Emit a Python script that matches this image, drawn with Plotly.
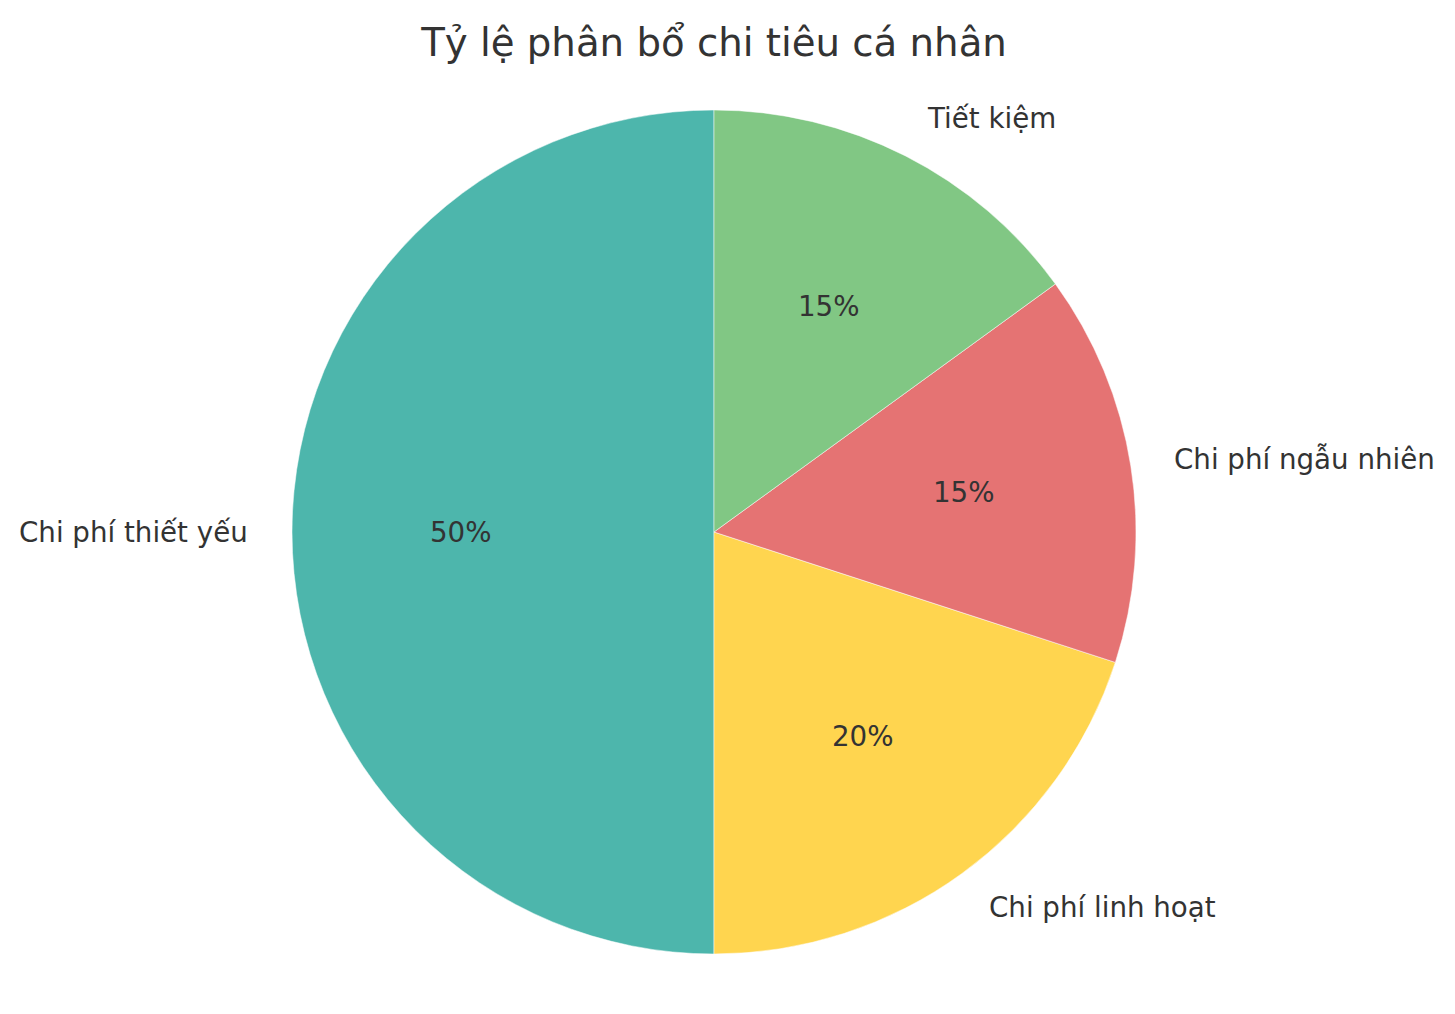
import numpy as np
import plotly.graph_objects as go

labels = ["Chi phí thiết yếu", "Chi phí linh hoạt", "Chi phí ngẫu nhiên", "Tiết kiệm"]
values = [50, 20, 15, 15]
colors = ["#4DB6AC", "#FFD54F", "#E57373", "#81C784"]
title = "Tỷ lệ phân bổ chi tiêu cá nhân"

# page has an 8px body margin, so the figure is drawn 8px in
OFF = 8
W, H = 1455 - 2 * OFF, 1014 - 2 * OFF
cx, cy, R = 714 - OFF, 532 - OFF, 422   # pie centre / radius in figure pixels
txt = "#333333"
font = "DejaVu Sans"

dom_x = [(cx - R) / W, (cx + R) / W]
dom_y = [(H - cy - R) / H, (H - cy + R) / H]

fig = go.Figure(go.Pie(
    labels=labels, values=values, sort=False,
    direction="counterclockwise", rotation=180,
    marker=dict(colors=colors, line=dict(width=0.5, color="white")),
    textinfo="none", hoverinfo="label+percent",
    domain=dict(x=dom_x, y=dom_y), showlegend=False,
))

# label / percent positions like matplotlib (labeldistance 1.1, pctdistance 0.6)
total = sum(values)
start = 90.0
ann = []
for lab, v in zip(labels, values):
    ang = np.deg2rad(start + 360.0 * v / total / 2)
    start += 360.0 * v / total
    c, s = np.cos(ang), np.sin(ang)
    px_, py_ = cx + 0.6 * R * c, (H - cy) + 0.6 * R * s
    ann.append(dict(x=px_ / W, y=py_ / H, xref="paper", yref="paper",
                    text=f"{v / total * 100:.0f}%", showarrow=False,
                    xanchor="center", yanchor="middle",
                    font=dict(size=27.7, color=txt, family=font)))
    lx, ly = cx + 1.1 * R * c, (H - cy) + 1.1 * R * s
    ann.append(dict(x=lx / W, y=ly / H, xref="paper", yref="paper",
                    text=lab, showarrow=False,
                    xanchor="left" if c > 0 else "right", yanchor="middle",
                    font=dict(size=27.7, color=txt, family=font)))

fig.update_layout(
    width=W, height=H,
    margin=dict(l=0, r=0, t=0, b=0),
    paper_bgcolor="white", plot_bgcolor="white",
    title=dict(text=title, x=cx / W, xanchor="center", y=1 - (42 - OFF) / H, yanchor="middle",
               font=dict(size=38.7, color=txt, family=font)),
    annotations=ann,
)

fig.write_html("out.html")
